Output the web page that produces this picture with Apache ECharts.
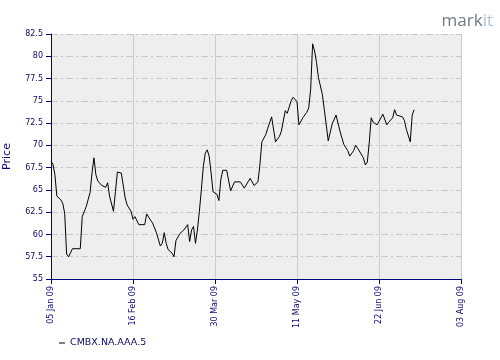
<!DOCTYPE html>
<html>
<head>
<meta charset="utf-8">
<style>
html,body{margin:0;padding:0;background:#fff;}
#chart{width:500px;height:360px;}
</style>
<script src="https://cdn.jsdelivr.net/npm/echarts@6/dist/echarts.min.js"></script>
</head>
<body>
<div id="chart"></div>
<script>
const seriesName = 'CMBX.NA.AAA.5';
const startDate = '2009-01-05';
const tickLabels = ['05 Jan 09','16 Feb 09','30 Mar 09','11 May 09','22 Jun 09','03 Aug 09'];
const tickStepDays = 42;
const yMin = 55, yMax = 82.5, yStep = 2.5;

const dates = [
 '2009-01-05','2009-01-06','2009-01-07','2009-01-08','2009-01-10','2009-01-11','2009-01-12','2009-01-13','2009-01-14','2009-01-16',
 '2009-01-17','2009-01-20','2009-01-21','2009-01-23','2009-01-25','2009-01-26','2009-01-27','2009-01-28','2009-01-29','2009-01-31',
 '2009-02-02','2009-02-03','2009-02-04','2009-02-06','2009-02-07','2009-02-08','2009-02-09','2009-02-10','2009-02-12','2009-02-13',
 '2009-02-15','2009-02-16','2009-02-17','2009-02-19','2009-02-22','2009-02-23','2009-02-25','2009-02-26','2009-02-27','2009-02-28',
 '2009-03-02','2009-03-03','2009-03-04','2009-03-05','2009-03-06','2009-03-08','2009-03-09','2009-03-10','2009-03-12','2009-03-13',
 '2009-03-14','2009-03-16','2009-03-17','2009-03-18','2009-03-19','2009-03-20','2009-03-21','2009-03-22','2009-03-23','2009-03-24',
 '2009-03-25','2009-03-26','2009-03-27','2009-03-28','2009-03-29','2009-03-30','2009-03-31','2009-04-01','2009-04-02','2009-04-03',
 '2009-04-05','2009-04-06','2009-04-07','2009-04-08','2009-04-09','2009-04-12','2009-04-14','2009-04-15','2009-04-17','2009-04-18',
 '2009-04-19','2009-04-21','2009-04-22','2009-04-23','2009-04-25','2009-04-26','2009-04-28','2009-04-29','2009-04-30','2009-05-02',
 '2009-05-03','2009-05-04','2009-05-05','2009-05-06','2009-05-08','2009-05-09','2009-05-10','2009-05-11','2009-05-12','2009-05-14',
 '2009-05-16','2009-05-17','2009-05-18','2009-05-19','2009-05-20','2009-05-21','2009-05-22','2009-05-24','2009-05-25','2009-05-27',
 '2009-05-29','2009-05-31','2009-06-01','2009-06-02','2009-06-04','2009-06-06','2009-06-07','2009-06-09','2009-06-10','2009-06-11',
 '2009-06-12','2009-06-14','2009-06-15','2009-06-16','2009-06-17','2009-06-18','2009-06-19','2009-06-21','2009-06-22','2009-06-24',
 '2009-06-26','2009-06-27','2009-06-29','2009-06-30','2009-07-01','2009-07-04','2009-07-05','2009-07-06','2009-07-08','2009-07-09',
 '2009-07-10'
];
const prices = [
 68.2,67.9,66.7,64.3,63.9,63.5,62.4,57.8,57.5,58.4,
 58.5,58.4,62.0,63.1,64.7,66.9,68.6,66.7,66.0,65.5,
 65.3,65.8,64.3,62.6,64.8,67.0,67.2,66.9,64.1,63.3,
 62.6,61.7,62.0,61.1,61.1,62.3,61.6,61.3,61.3,60.2,
 58.7,59.0,60.2,59.0,58.3,57.9,57.5,59.3,60.1,59.9,
 60.5,61.1,59.2,60.5,60.9,59.0,60.5,62.6,65.0,67.6,
 69.1,69.5,68.8,66.9,64.8,65.0,64.5,63.8,66.2,67.2,
 67.2,67.1,64.9,64.8,65.9,65.9,65.2,65.1,66.3,65.9,
 65.5,65.9,67.8,70.4,71.2,71.9,73.2,73.3,70.4,71.0,
 71.6,71.8,73.9,73.6,75.0,75.4,75.6,74.9,72.3,73.1,
 73.7,74.2,76.3,81.4,80.6,79.3,77.6,75.7,74.0,70.5,
 72.4,73.4,73.4,71.6,70.1,69.4,68.8,69.4,70.0,69.7,
 69.8,68.6,67.8,68.1,70.3,73.1,72.6,72.3,72.7,73.5,
 72.3,72.6,73.1,74.0,73.4,73.2,72.8,71.8,70.4,73.4,
 74.0
];

const DAY = 86400000;
const t0 = Date.parse(startDate + 'T00:00:00Z');
const dayOf = s => Math.round((Date.parse(s + 'T00:00:00Z') - t0) / DAY);
const seriesData = dates.map((d, i) => [dayOf(d), prices[i]]);

const navy = '#000080';
const labelColor = '#0a0a6a';
const chart = echarts.init(document.getElementById('chart'), null, {renderer: 'canvas'});
chart.setOption({
  animation: false,
  backgroundColor: '#ffffff',
  grid: {
    left: 51, right: 39, top: 34, bottom: 81,
    containLabel: false, outerBoundsMode: 'none',
    show: true, backgroundColor: '#eeeeee', borderWidth: 0
  },
  legend: {
    left: 54, top: 333,
    icon: 'rect', itemWidth: 6, itemHeight: 1,
    textStyle: {color: labelColor, fontFamily: 'DejaVu Sans', fontSize: 9.5},
    data: [seriesName]
  },
  graphic: [{
    type: 'text', right: 7, top: 13,
    style: {
      text: '{a|mark}{b|it}',
      rich: {
        a: {fill: '#6b7b88', fontFamily: 'Open Sans', fontSize: 17},
        b: {fill: '#acc2cf', fontFamily: 'Open Sans', fontSize: 17}
      }
    }
  }],
  xAxis: {
    type: 'value', min: 0, max: tickStepDays * (tickLabels.length - 1), interval: tickStepDays,
    axisLine: {show: true, lineStyle: {color: navy, width: 1}},
    axisTick: {show: true, length: 5, lineStyle: {color: navy}},
    axisLabel: {
      rotate: 90, margin: 7, color: labelColor, fontFamily: 'DejaVu Sans', fontSize: 8,
      formatter: v => tickLabels[Math.round(v / tickStepDays)] || ''
    },
    splitLine: {show: true, lineStyle: {color: '#cccccc', width: 1, type: 'solid'}}
  },
  yAxis: {
    type: 'value', min: yMin, max: yMax, interval: yStep,
    name: 'Price', nameLocation: 'middle', nameGap: 38,
    nameTextStyle: {color: labelColor, fontFamily: 'DejaVu Sans', fontSize: 11},
    axisLine: {show: true, lineStyle: {color: navy, width: 1}},
    axisTick: {show: true, length: 5, lineStyle: {color: navy}},
    axisLabel: {margin: 8, color: labelColor, fontFamily: 'DejaVu Sans', fontSize: 8},
    splitLine: {show: true, lineStyle: {color: '#c8c8c8', width: 1, type: [7, 3, 2, 3]}}
  },
  series: [{
    name: seriesName, type: 'line', data: seriesData,
    symbol: 'none', lineStyle: {color: '#000000', width: 1},
    itemStyle: {color: '#000000'}
  }]
});
</script>
</body>
</html>
